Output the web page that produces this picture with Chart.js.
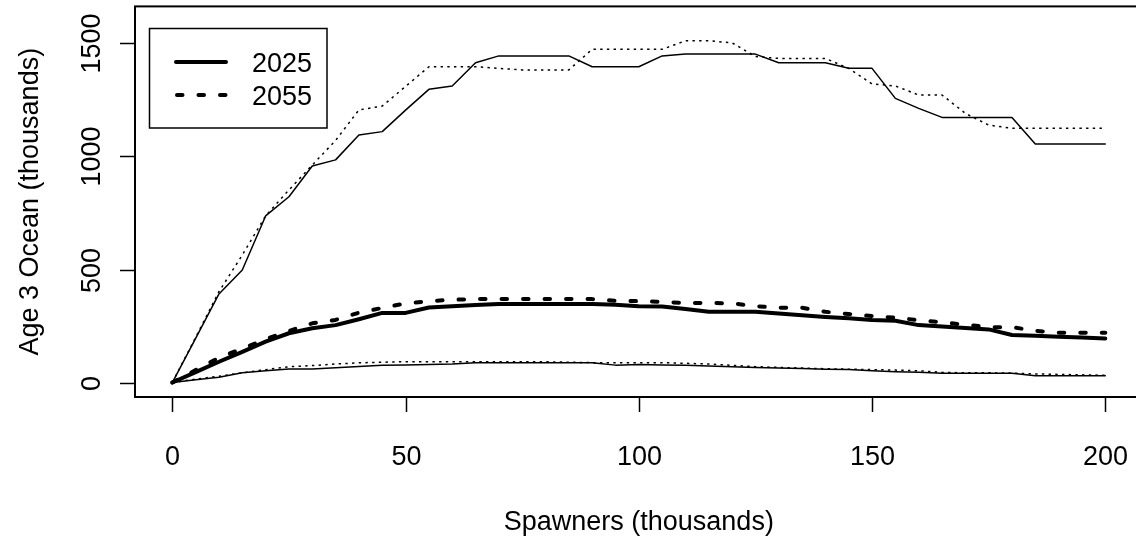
<!DOCTYPE html>
<html>
<head>
<meta charset="utf-8">
<script src="https://cdn.jsdelivr.net/npm/chart.js@4/dist/chart.umd.min.js"></script>
<style>
  html, body { margin: 0; padding: 0; background: #fff; overflow: hidden; }
  #wrap { width: 1150px; height: 542px; }
</style>
</head>
<body>
<div id="wrap"><canvas id="chart" width="1150" height="542"></canvas></div>
<script>
// spawner abundance (thousands)
const spawners = [0, 5, 10, 15, 20, 25, 30, 35, 40, 45, 50, 55, 60, 65, 70, 75, 80, 85, 90, 95, 100,
  105, 110, 115, 120, 125, 130, 135, 140, 145, 150, 155, 160, 165, 170, 175, 180, 185, 190, 195, 200];

// age 3 ocean abundance (thousands), three curves per year
const high2025 = [0, 195, 392, 498, 737, 822, 958, 985, 1095, 1110, 1205, 1297, 1312, 1415, 1445, 1445, 1445, 1445, 1397, 1397, 1397,
  1445, 1453, 1453, 1453, 1453, 1415, 1415, 1415, 1390, 1390, 1257, 1213, 1173, 1173, 1173, 1173, 1055, 1055, 1055, 1055];
const high2055 = [0, 200, 402, 564, 737, 852, 962, 1071, 1206, 1223, 1310, 1397, 1397, 1397, 1390, 1383, 1383, 1383, 1474, 1474, 1474,
  1474, 1512, 1512, 1503, 1442, 1434, 1434, 1434, 1390, 1321, 1312, 1272, 1272, 1191, 1139, 1125, 1125, 1125, 1125, 1125];
const mid2025 = [0, 46, 92, 136, 181, 218, 240, 254, 280, 308, 308, 332, 338, 343, 347, 347, 347, 347, 347, 344, 338,
  336, 325, 313, 313, 313, 305, 298, 290, 284, 277, 273, 254, 248, 241, 235, 210, 207, 203, 199, 195];
const mid2055 = [0, 55, 110, 150, 192, 228, 262, 277, 309, 330, 350, 360, 366, 369, 369, 369, 369, 369, 369, 362, 360,
  357, 352, 352, 350, 338, 331, 331, 313, 303, 294, 287, 276, 266, 256, 245, 245, 229, 220, 220, 220];
const low2025 = [0, 12, 23, 43, 52, 60, 60, 65, 71, 77, 78, 80, 82, 88, 88, 88, 88, 88, 88, 77, 80,
  78, 76, 73, 70, 67, 64, 62, 59, 58, 52, 48, 45, 41, 41, 41, 41, 30, 30, 30, 30];
const low2055 = [0, 15, 28, 43, 57, 70, 75, 82, 87, 90, 92, 92, 92, 92, 92, 92, 92, 90, 88, 88, 88,
  88, 85, 82, 76, 70, 67, 64, 61, 59, 57, 55, 52, 45, 43, 43, 42, 38, 36, 34, 32];

const xTicks = [0, 50, 100, 150, 200];
const yTicks = [0, 500, 1000, 1500];
const years = ['2025', '2055'];

const FONT = '27px "Liberation Sans", Arial, sans-serif';
const THIN = 1.5;
const THICK = 4;

function pts(ys) {
  return spawners.map((x, i) => ({ x: x, y: ys[i] }));
}

function solid(ys, w) {
  return { data: pts(ys), borderColor: '#000', borderWidth: w, borderDash: [], borderCapStyle: 'round', borderJoinStyle: 'round' };
}

function dotted(ys, w) {
  const dash = w > 2 ? [5.5, 16] : [2.4, 4.3];
  return { data: pts(ys), borderColor: '#000', borderWidth: w, borderDash: dash,
    borderCapStyle: w > 2 ? 'round' : 'butt', borderJoinStyle: 'round' };
}

// box, ticks, tick labels, axis titles and legend in base-graphics style
const baseAxes = {
  id: 'baseAxes',
  afterDraw(chart) {
    const ctx = chart.ctx;
    const a = chart.chartArea;
    const xs = chart.scales.x;
    const ys = chart.scales.y;
    ctx.save();
    ctx.strokeStyle = '#000';
    ctx.fillStyle = '#000';
    ctx.lineWidth = 2;
    ctx.strokeRect(a.left, a.top, a.right - a.left, a.bottom - a.top);

    ctx.lineWidth = 1.5;
    ctx.font = FONT;
    ctx.textAlign = 'center';
    ctx.textBaseline = 'alphabetic';
    xTicks.forEach(v => {
      const px = Math.round(xs.getPixelForValue(v)) + 0.5;
      ctx.beginPath();
      ctx.moveTo(px, a.bottom);
      ctx.lineTo(px, a.bottom + 15);
      ctx.stroke();
      ctx.fillText(String(v), px, 465);
    });
    yTicks.forEach(v => {
      const py = Math.round(ys.getPixelForValue(v)) + 0.5;
      ctx.beginPath();
      ctx.moveTo(a.left - 15, py);
      ctx.lineTo(a.left, py);
      ctx.stroke();
      ctx.save();
      ctx.translate(100, py);
      ctx.rotate(-Math.PI / 2);
      ctx.fillText(String(v), 0, 0);
      ctx.restore();
    });

    ctx.fillText('Spawners (thousands)', (a.left + a.right) / 2, 530);
    ctx.save();
    ctx.translate(38, (a.top + a.bottom) / 2);
    ctx.rotate(-Math.PI / 2);
    ctx.fillText('Age 3 Ocean (thousands)', 0, 0);
    ctx.restore();

    // legend
    ctx.lineWidth = 1.5;
    ctx.strokeRect(149.5, 28.5, 177.5, 99.5);
    const rows = [62, 95];
    years.forEach((label, i) => {
      ctx.save();
      ctx.lineWidth = THICK;
      ctx.lineCap = 'round';
      ctx.setLineDash(i === 0 ? [] : [5.5, 16]);
      ctx.beginPath();
      ctx.moveTo(i === 0 ? 176 : 177, rows[i]);
      ctx.lineTo(226, rows[i]);
      ctx.stroke();
      ctx.restore();
      ctx.textAlign = 'left';
      ctx.fillText(label, 252, rows[i] + 9.7);
    });
    ctx.restore();
  }
};

new Chart(document.getElementById('chart'), {
  type: 'line',
  data: {
    datasets: [
      solid(high2025, THIN),
      dotted(high2055, THIN),
      solid(mid2025, THICK),
      dotted(mid2055, THICK),
      solid(low2025, THIN),
      dotted(low2055, THIN)
    ]
  },
  options: {
    responsive: false,
    devicePixelRatio: 1,
    animation: false,
    layout: { padding: { left: 135, top: 6.4, right: 7.4, bottom: 145 } },
    elements: { point: { radius: 0 }, line: { tension: 0, fill: false } },
    scales: {
      x: { type: 'linear', display: false, min: -8, max: 208 },
      y: { type: 'linear', display: false, min: -64, max: 1664 }
    },
    plugins: { legend: { display: false }, tooltip: { enabled: false } }
  },
  plugins: [baseAxes]
});
</script>
</body>
</html>
